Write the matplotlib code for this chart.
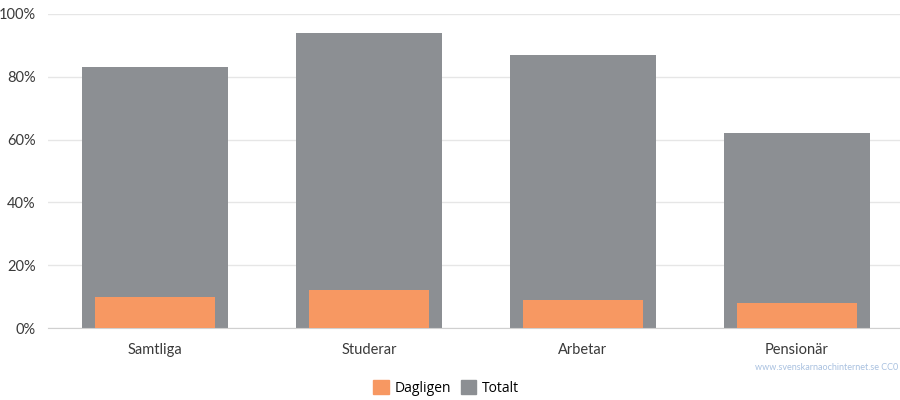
import numpy as np
import matplotlib.pyplot as plt
from matplotlib.patches import Patch

# Data
kategorier = ['Samtliga', 'Studerar', 'Arbetar', 'Pensionär']
totalt = [83, 94, 87, 62]
dagligen = [10, 12, 9, 8]

plt.rcParams['font.family'] = ['Lato', 'DejaVu Sans']

fig = plt.figure(figsize=(9, 4), dpi=100)
ax = fig.add_axes([48 / 900, 1 - 328 / 400, 856 / 900, 314 / 400])

x = np.arange(len(kategorier))
grey = '#8c8f93'
orange = '#f79862'

ax.bar(x, totalt, width=0.68, color=grey, zorder=2)
ax.bar(x, dagligen, width=0.56, color=orange, zorder=3)

ax.set_xlim(-0.5, len(kategorier) - 0.5)
ax.set_ylim(0, 100)
ax.set_yticks([0, 20, 40, 60, 80, 100])
ax.set_yticklabels([f'{v}%' for v in [0, 20, 40, 60, 80, 100]])
ax.set_xticks(x)
ax.set_xticklabels(kategorier)

ax.yaxis.grid(True, color='#e6e6e6', linewidth=1, zorder=0)
ax.tick_params(axis='both', length=0, labelsize=10.5, labelcolor='#3a3a3a')
ax.tick_params(axis='x', pad=11)
ax.tick_params(axis='y', pad=9)
for s in ['top', 'right', 'left']:
    ax.spines[s].set_visible(False)
ax.spines['bottom'].set_color('#d0d0d0')

# Watermark (kept fully inside the figure)
fig.text(898 / 900, 1 - 368 / 400, 'www.svenskarnaochinternet.se CC0',
         fontsize=6.5, color='#a9c1e0', va='center', ha='right')

# Legend
handles = [Patch(color=orange, label='Dagligen'), Patch(color=grey, label='Totalt')]
fig.legend(handles=handles, loc='center', bbox_to_anchor=(446 / 900, 1 - 388 / 400),
           ncol=2, frameon=False, handlelength=1.1, handleheight=1.1,
           handletextpad=0.4, columnspacing=0.7, prop={'family': 'Open Sans', 'size': 10})

fig.savefig('out.png', dpi=100)
